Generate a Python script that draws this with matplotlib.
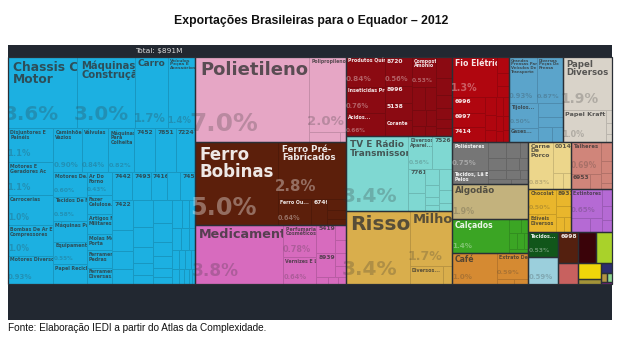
import matplotlib
matplotlib.use("Agg")
import matplotlib.pyplot as plt
from matplotlib.patches import Rectangle
from matplotlib import colors as mcolors

TITLE = "Exportações Brasileiras para o Equador – 2012"
SOURCE = "Fonte: Elaboração IEDI a partir do Atlas da Complexidade."
TOTAL_TEXT = "Total: \\$891M"

# ---------------- data (share of total exports, %) ----------------
BLUE_NAMES = ["Chassis Com\nMotor", "Máquinas\nConstrução", "Carro", "Veículos\nPeças E\nAcessórios",
              "Disjuntores E\nPainéis", "Motores E\nGeradores Ac", "Carrocerias", "Bombas De Ar E\nCompressores", "Motores Diversos",
              "Caminhões\nVazios", "Válvulas", "Máquinas\nPara\nColheita", "7452", "7851", "7224",
              "Motores De...", "Tecidos De Fib", "Máquinas Para...", "Equipamentos...", "Papel Reciclável",
              "Ar Do\nForno", "Fazer\nCelulose...", "Artigos Não-\nMilitares", "Molas Molas\nPorta", "Ferramenta\nPedras", "Ferramentas\nDiversas...",
              "7442", "7493", "7416", "", "7451",
              "7422", "", "", "",
              "", "", "", "", "",
              "", "", "", "", "", "",
              "", "", "", "", "", "", "", "", "", "", "", "", "", "", ""]
BLUE_VALUES = [3.6, 3.0, 1.7, 1.4,
               1.1, 1.1, 1.0, 1.0, 0.93,
               0.90, 0.84, 0.82, 0.66, 0.66, 0.60,
               0.60, 0.58, 0.51, 0.55, 0.48,
               0.43, 0.35, 0.37, 0.30, 0.32, 0.30,
               0.40, 0.38, 0.33, 0.26, 0.30,
               0.45, 0.32, 0.28, 0.22,
               0.38, 0.28, 0.22, 0.17, 0.13,
               0.32, 0.26, 0.20, 0.16, 0.12, 0.10,
               0.20, 0.15, 0.12, 0.15, 0.12, 0.10, 0.10, 0.08, 0.08, 0.06, 0.08, 0.06, 0.05, 0.04, 0.03]
BLUE_SHAPE = [4, [5, [6, [5, 6, [5, [4, 5, 6, [3, 3, 4, 5]]]]]]]

PINK_NAMES = ["Polietileno", "Polipropileno", "", ""]
PINK_VALUES = [7.0, 2.0, 0.22, 0.04]
PINK_SHAPE = [1, [1, 2]]

BROWN_NAMES = ["Ferro\nBobinas", "Ferro Pré-\nFabricados", "Ferro Ou...", "6749", "", "", ""]
BROWN_VALUES = [5.0, 2.8, 0.64, 0.30, 0.15, 0.12, 0.08]
BROWN_SHAPE = [1, [1, [1, 1, 3]]]

MAGENTA_NAMES = ["Medicamentos", "Perfumaria E\nCosméticos", "Vernizes E Lacas", "5419", "", "", "8939", "", "", "", "", ""]
MAGENTA_VALUES = [3.8, 0.78, 0.64, 0.38, 0.12, 0.10, 0.33, 0.10, 0.08, 0.06, 0.05, 0.04]
MAGENTA_SHAPE = [1, 2, [[1, 2], [1, 2], 3]]

DARKRED_NAMES = ["Produtos Quím", "Inseticidas Produto", "Ácidos...", "8720", "8996", "5138", "Corante",
                 "Compostos\nAmônio", "", "", "", "", "", "", "", "", "", "", "", ""]
DARKRED_VALUES = [0.84, 0.76, 0.66, 0.56, 0.33, 0.33, 0.33,
                  0.53, 0.22, 0.18, 0.16, 0.12, 0.10, 0.09, 0.25, 0.20, 0.15, 0.13, 0.10, 0.10]
DARKRED_SHAPE = [3, 4, [1, 2, 2, 2], 6]

CYAN_NAMES = ["TV E Rádio\nTransmissores", "Diversos\nAparel...", "7526", "7761", "", "", "", "", "", "", "", ""]
CYAN_VALUES = [3.4, 0.56, 0.47, 0.30, 0.22, 0.16, 0.12, 0.08, 0.06, 0.20, 0.12, 0.08]
CYAN_SHAPE = [1, [2, [2, 4, 3]]]

GOLD_NAMES = ["Rissol", "Milho", "Diversos...", ""]
GOLD_VALUES = [3.4, 1.7, 0.42, 0.12]
GOLD_SHAPE = [1, [1, 2]]

RED_NAMES = ["Fio Elétrico", "", "", "", "6996", "6997", "7414", "", "", "", "", "", "", "", "", ""]
RED_VALUES = [1.3, 0.15, 0.12, 0.10, 0.36, 0.35, 0.35, 0.14, 0.12, 0.10, 0.10, 0.08, 0.06, 0.08, 0.06, 0.05]
RED_SHAPE = [[1, 3], [3, 3, 3, 3]]

STEEL_NAMES = ["Grandes\nPrensas Para\nVeículos De\nTransporte", "Diversas\nPeças De\nPrensa", "Tijolos...", "Gases...", "", "", "", ""]
STEEL_VALUES = [0.93, 0.87, 0.50, 0.30, 0.25, 0.18, 0.15, 0.12]
STEEL_SHAPE = [2, [2, [1, 1, 2]]]

BEIGE_NAMES = ["Papel\nDiversos", "Papel Kraft", "", "", ""]
BEIGE_VALUES = [1.9, 1.0, 0.06, 0.05, 0.04]
BEIGE_SHAPE = [1, [1, 3]]

GRAY_NAMES = ["Poliésteres", "Tecidos, Lã E\nPelos", "", "", "", "", "", "", "", "", "", "", ""]
GRAY_VALUES = [0.75, 0.35, 0.20, 0.15, 0.10, 0.15, 0.12, 0.08, 0.12, 0.10, 0.06, 0.08, 0.06]
GRAY_SHAPE = [2, [3, 3, 3, 2]]

TAN_NAMES = ["Algodão"]
TAN_VALUES = [1.95]
TAN_SHAPE = [1]

GREEN_NAMES = ["Calçados", "", "", "", "", "", ""]
GREEN_VALUES = [1.4, 0.12, 0.08, 0.10, 0.08, 0.05, 0.06]
GREEN_SHAPE = [1, [2, 3, 1]]

ORANGE_NAMES = ["Café", "Extrato De Malte", "", ""]
ORANGE_VALUES = [1.0, 0.59, 0.06, 0.05]
ORANGE_SHAPE = [1, [1, 2]]

LYELLOW_NAMES = ["Carne\nDe\nPorco", "0014", "", ""]
LYELLOW_VALUES = [0.83, 0.40, 0.12, 0.09]
LYELLOW_SHAPE = [1, [1, 2]]

ROSE_NAMES = ["Talheres", "6953", "", "", "", "", ""]
ROSE_VALUES = [0.69, 0.22, 0.12, 0.15, 0.10, 0.08, 0.05]
ROSE_SHAPE = [[1, 2], 4]

GOLD2_NAMES = ["Chocolat", "Edíveis\nDiversos", "8931", "", "", ""]
GOLD2_VALUES = [0.50, 0.35, 0.18, 0.12, 0.10, 0.07]
GOLD2_SHAPE = [2, [1, 1, 2]]

PURPLE_NAMES = ["Extintores Ex...", "", "", "", "", ""]
PURPLE_VALUES = [0.65, 0.20, 0.13, 0.12, 0.10, 0.09]
PURPLE_SHAPE = [[1, 2], 3]

MISC_NAMES = ["Tecidos...", "", "6998", "", "", "", "", "", "", "", "", ""]
MISC_VALUES = [0.53, 0.59, 0.44, 0.42, 0.35, 0.30, 0.27, 0.08, 0.08, 0.04, 0.03, 0.02]
MISC_COLORS = ["#11561a", "#9bcfdc", "#54200f", "#3a0309", "#a9d22a", "#c8615f",
               "#efd50a", "#a39338", "#2c2d6e", "#b39442", "#8dd58f", "#7e1f86"]
MISC_LIGHT = [True, False, True, True, False, False, False, False, True, False, False, True]

# ---------------- styles ----------------
NAME_FS = {
    "Chassis Com\nMotor": 8.8, "Máquinas\nConstrução": 7.2, "Carro": 6.4,
    "Veículos\nPeças E\nAcessórios": 3.2, "Polietileno": 13.0, "Polipropileno": 3.3,
    "Ferro\nBobinas": 12.0, "Ferro Pré-\nFabricados": 6.3, "Medicamentos": 9.2,
    "TV E Rádio\nTransmissores": 6.4, "Rissol": 14.5, "Milho": 9.4, "Fio Elétrico": 5.6,
    "Papel\nDiversos": 6.2, "Papel Kraft": 4.6, "Algodão": 6.3, "Calçados": 5.5, "Café": 5.6,
    "Carne\nDe\nPorco": 4.4, "Talheres": 3.8,
    "Grandes\nPrensas Para\nVeículos De\nTransporte": 2.8, "Diversas\nPeças De\nPrensa": 2.8,
}
PCT_FS = {
    "Chassis Com\nMotor": 14.3, "Máquinas\nConstrução": 14.3, "Carro": 8.3,
    "Veículos\nPeças E\nAcessórios": 6.2, "Polietileno": 17.9, "Polipropileno": 9.6,
    "Ferro\nBobinas": 17.3, "Ferro Pré-\nFabricados": 10.8, "Medicamentos": 12.2,
    "TV E Rádio\nTransmissores": 14.5, "Rissol": 14.5, "Milho": 9.1, "Fio Elétrico": 6.9,
    "Papel\nDiversos": 9.9, "Algodão": 5.8, "Calçados": 5.2, "Café": 5.2,
}

GROUPS = {
    "blue": (BLUE_NAMES, BLUE_VALUES, BLUE_SHAPE, "v", "#1cb0e1", False),
    "pink": (PINK_NAMES, PINK_VALUES, PINK_SHAPE, "h", "#e6a6c5", False),
    "brown": (BROWN_NAMES, BROWN_VALUES, BROWN_SHAPE, "h", "#5c1f0b", True),
    "magenta": (MAGENTA_NAMES, MAGENTA_VALUES, MAGENTA_SHAPE, "h", "#d76bbe", False),
    "darkred": (DARKRED_NAMES, DARKRED_VALUES, DARKRED_SHAPE, "h", "#8b0a12", True),
    "cyan": (CYAN_NAMES, CYAN_VALUES, CYAN_SHAPE, "h", "#7fd8d2", False),
    "gold": (GOLD_NAMES, GOLD_VALUES, GOLD_SHAPE, "h", "#d9ae4c", False),
    "red": (RED_NAMES, RED_VALUES, RED_SHAPE, "v", "#b0060f", True),
    "steel": (STEEL_NAMES, STEEL_VALUES, STEEL_SHAPE, "v", "#5ba4cb", False),
    "beige": (BEIGE_NAMES, BEIGE_VALUES, BEIGE_SHAPE, "v", "#d9d3c9", False),
    "gray": (GRAY_NAMES, GRAY_VALUES, GRAY_SHAPE, "h", "#767676", True),
    "tan": (TAN_NAMES, TAN_VALUES, TAN_SHAPE, "h", "#c3b27d", False),
    "green": (GREEN_NAMES, GREEN_VALUES, GREEN_SHAPE, "h", "#3ba524", True),
    "orange": (ORANGE_NAMES, ORANGE_VALUES, ORANGE_SHAPE, "h", "#d58a32", False),
    "ly": (LYELLOW_NAMES, LYELLOW_VALUES, LYELLOW_SHAPE, "h", "#ecd68b", False),
    "rose": (ROSE_NAMES, ROSE_VALUES, ROSE_SHAPE, "h", "#d0857a", False),
    "gold2": (GOLD2_NAMES, GOLD2_VALUES, GOLD2_SHAPE, "h", "#e9b62c", False),
    "purple": (PURPLE_NAMES, PURPLE_VALUES, PURPLE_SHAPE, "h", "#b56ad4", False),
}
for i in range(len(MISC_NAMES)):
    GROUPS["m%d" % i] = ([MISC_NAMES[i]], [MISC_VALUES[i]], [1], "h", MISC_COLORS[i], MISC_LIGHT[i])

ROOT = ["blue", ["pink", "brown", "magenta"], ["darkred", "cyan", "gold"],
        [["red", "steel", "beige"],
         [["gray", "tan", "green", "orange"],
          [["ly", "rose"], ["gold2", "purple"],
           [["m0", "m1"], [["m2", "m3", "m4"], ["m5", ["m6", "m7"], ["m8", ["m9", "m10"], "m11"]]]]]]]]

# ---------------- layout helpers ----------------
def shape_total(shape, vals, start):
    if isinstance(shape, int):
        return sum(vals[start:start + shape]), shape
    tot, cnt = 0.0, 0
    for s in shape:
        t, c = shape_total(s, vals, start + cnt)
        tot += t
        cnt += c
    return tot, cnt


def layout(shape, vals, start, x, y, w, h, d, out):
    if isinstance(shape, int):
        tot = sum(vals[start:start + shape])
        pos = 0.0
        for i in range(shape):
            f = vals[start + i] / tot
            if d == "h":
                out.append((start + i, x + pos * w, y, f * w, h))
            else:
                out.append((start + i, x, y + pos * h, w, f * h))
            pos += f
        return
    tot, _ = shape_total(shape, vals, start)
    nd = "v" if d == "h" else "h"
    pos, cnt = 0.0, 0
    for s in shape:
        t, c = shape_total(s, vals, start + cnt)
        f = t / tot
        if d == "h":
            layout(s, vals, start + cnt, x + pos * w, y, f * w, h, nd, out)
        else:
            layout(s, vals, start + cnt, x, y + pos * h, w, f * h, nd, out)
        pos += f
        cnt += c


def node_total(node):
    if isinstance(node, str):
        return sum(GROUPS[node][1])
    return sum(node_total(n) for n in node)


def layout_root(node, x, y, w, h, d, out):
    if isinstance(node, str):
        out.append((node, x, y, w, h))
        return
    tot = node_total(node)
    nd = "v" if d == "h" else "h"
    pos = 0.0
    for n in node:
        f = node_total(n) / tot
        if d == "h":
            layout_root(n, x + pos * w, y, f * w, h, nd, out)
        else:
            layout_root(n, x, y + pos * h, w, f * h, nd, out)
        pos += f


def shade(c, k):
    r, g, b = mcolors.to_rgb(c)
    return (r * k, g * k, b * k)


def pct_text(v):
    return ("%.1f%%" % v) if v >= 1 else ("%.2f%%" % v)

# ---------------- figure ----------------
PX2PT = 0.72
fig = plt.figure(figsize=(6.22, 3.45), dpi=100)
ax = fig.add_axes([0, 0, 1, 1])
ax.set_xlim(0, 622)
ax.set_ylim(345, 0)
ax.axis("off")

FX0, FY0, FX1, FY1 = 8, 45, 612, 320
TX, TY, TW, TH = 8, 57, 604, 227

ax.add_patch(Rectangle((FX0, FY0), FX1 - FX0, FY1 - FY0, facecolor="#222831", edgecolor="none", zorder=0))
tm_clip = Rectangle((TX, TY), TW, TH, facecolor="none", edgecolor="none")
ax.add_patch(tm_clip)

ax.text(311, 21, TITLE, ha="center", va="center", fontsize=8.8, fontweight="bold",
        family="Liberation Sans", color="#111111")
ax.text(FX0, 328, SOURCE, ha="left", va="center", fontsize=7.2, family="Liberation Sans", color="#111111")
ax.text(159, 51, TOTAL_TEXT, ha="center", va="center", fontsize=5.3, color="#dcdcdc")

group_rects = []
layout_root(ROOT, TX, TY, TW, TH, "h", group_rects)

texts = []
for key, gx, gy, gw, gh in group_rects:
    names, vals, shape, d, color, light = GROUPS[key]
    leaves = []
    layout(shape, vals, 0, gx, gy, gw, gh, d, leaves)
    for idx, x, y, w, h in leaves:
        r = Rectangle((x, y), w, h, facecolor=color, edgecolor=shade(color, 0.85), linewidth=0.5, zorder=1)
        ax.add_patch(r)
        texts.append((names[idx], vals[idx], x, y, w, h, r, light))
    ax.add_patch(Rectangle((gx, gy), gw, gh, facecolor="none", edgecolor="#2a2f36", linewidth=0.9, zorder=2))

for name, v, x, y, w, h, r, light in texts:
    tc = "#ffffff" if light else "#333333"
    na = 0.9 if light else 0.78
    pa = 0.35 if light else 0.25
    m = min(w, h)
    # percentage (drawn on top, may spill slightly left as in the reference)
    if name in PCT_FS:
        pfs = PCT_FS[name]
    else:
        pfs = 0.25 * m * PX2PT
    pfs_px = pfs / PX2PT
    if pfs_px >= 5.5 and w >= 15:
        t = ax.text(x - 0.3 * pfs_px + 2, y + h - (0.3 * pfs_px + 3), pct_text(v), fontsize=pfs,
                    fontweight="bold", color=tc, alpha=pa, ha="left", va="baseline", zorder=6, clip_on=True)
        t.set_clip_path(tm_clip)
    # product name, clipped to its cell
    if name:
        if name in NAME_FS:
            fs = NAME_FS[name]
        elif name.isdigit():
            fs = 4.3
        else:
            fs = 3.4
        if h < fs / PX2PT * 0.9 or w < 10:
            continue
        pad = max(2.0, min(5.0, 0.07 * m))
        t = ax.text(x + pad, y + pad * 0.8, name, fontsize=fs, fontweight="bold", color=tc, alpha=na,
                    ha="left", va="top", linespacing=0.95, zorder=7, clip_on=True)
        t.set_clip_path(r)

fig.savefig("out.png", dpi=100)
